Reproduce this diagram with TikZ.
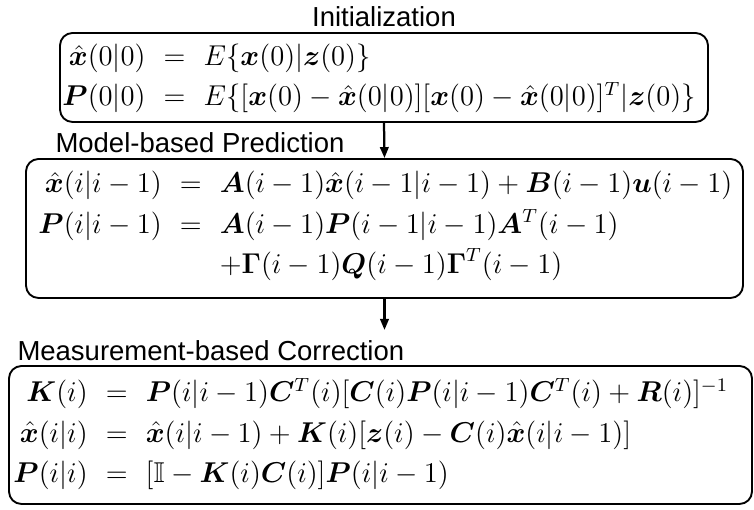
\documentclass[tikz,border=0pt]{standalone}
\usepackage{amsmath,amssymb,bm}
\usepackage{fontspec}
\usetikzlibrary{arrows.meta,positioning,fit}
\newfontfamily\labelfont{Liberation Sans}

\begin{document}
\begin{tikzpicture}[x=0.4pt, y=-0.4pt,
  >={Triangle[length=4.4pt,width=3.4pt]},
  box/.style={draw, line width=0.75pt, rounded corners=5pt, inner sep=0pt},
  lbl/.style={font=\labelfont\fontsize{11}{13}\selectfont, inner sep=0pt},
  eqn/.style={anchor=west, inner sep=0pt, font=\large, scale=0.955,
    execute at begin node={\arraycolsep=3.8pt\def\arraystretch{1.2}}},
  flow/.style={->, line width=0.9pt}]
\useasboundingbox (0,0) rectangle (754,510);

% initialization
\node[lbl] (initlbl) at (384,17) {Initialization};
\node[box, fit={(60,33) (708,122)}] (init) {};
\node[eqn] (initeq) at (62,77.5) {$\begin{array}{@{}rcl@{}}
  \hat{\bm{x}}(0|0) &=& E\{\bm{x}(0)|\bm{z}(0)\}\\
  \bm{P}(0|0) &=& E\{[\bm{x}(0)-\hat{\bm{x}}(0|0)][\bm{x}(0)-\hat{\bm{x}}(0|0)]^T|\bm{z}(0)\}
\end{array}$};

% prediction
\node[lbl, anchor=west] (predlbl) at (55,143) {Model-based Prediction};
\node[box, fit={(26,159) (743,298)}] (pred) {};
\node[eqn] (predeq) at (38,225) {$\begin{array}{@{}rcl@{}}
  \hat{\bm{x}}(i|i-1) &=& \bm{A}(i-1)\hat{\bm{x}}(i-1|i-1)+\bm{B}(i-1)\bm{u}(i-1)\\
  \bm{P}(i|i-1) &=& \bm{A}(i-1)\bm{P}(i-1|i-1)\bm{A}^T(i-1)\\
  && +\bm{\Gamma}(i-1)\bm{Q}(i-1)\bm{\Gamma}^T(i-1)
\end{array}$};

% correction
\node[lbl, anchor=west] (corrlbl) at (17,351) {Measurement-based Correction};
\node[box, fit={(9,366) (752,504)}] (corr) {};
\node[eqn] (correq) at (13,434) {$\begin{array}{@{}rcl@{}}
  \bm{K}(i) &=& \bm{P}(i|i-1)\bm{C}^T(i)[\bm{C}(i)\bm{P}(i|i-1)\bm{C}^T(i)+\bm{R}(i)]^{-1}\\
  \hat{\bm{x}}(i|i) &=& \hat{\bm{x}}(i|i-1)+\bm{K}(i)[\bm{z}(i)-\bm{C}(i)\hat{\bm{x}}(i|i-1)]\\
  \bm{P}(i|i) &=& [\mathbb{I}-\bm{K}(i)\bm{C}(i)]\bm{P}(i|i-1)
\end{array}$};

\coordinate (predout) at (384.5,330);
\draw[flow] (init.south) -- (pred.north);
\draw[flow] (pred.south) -- (predout);
\end{tikzpicture}
\end{document}
